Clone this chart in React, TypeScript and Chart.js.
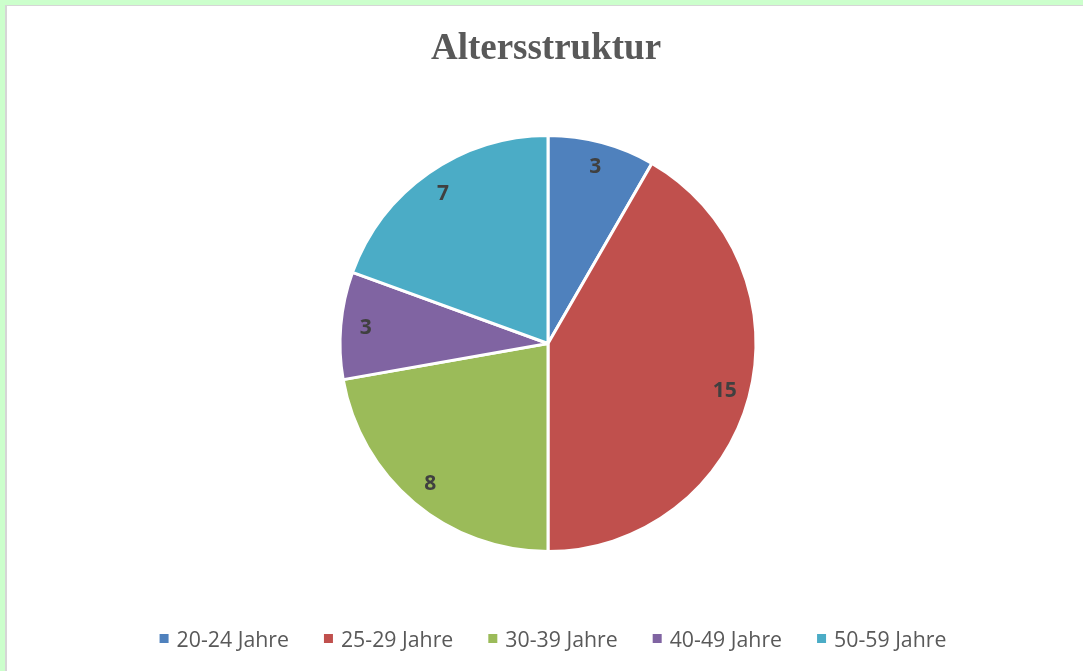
import React, { useEffect, useRef } from "react";
import { Chart, registerables } from "chart.js";

Chart.register(...registerables);

const TITLE = "Altersstruktur";
const categories = ["20-24 Jahre", "25-29 Jahre", "30-39 Jahre", "40-49 Jahre", "50-59 Jahre"];
const values = [3, 15, 8, 3, 7];
const colors = ["#4F81BD", "#C0504D", "#9BBB59", "#8064A2", "#4BACC6"];

const CANVAS_W = 1076;
const CANVAS_H = 665;

const decorPlugin = {
  id: "decor",
  afterDatasetsDraw(chart: any) {
    const ctx = chart.ctx as CanvasRenderingContext2D;
    const area = chart.chartArea;
    const cx = (area.left + area.right) / 2;
    const meta = chart.getDatasetMeta(0);

    ctx.save();
    // slice value labels
    ctx.font = "bold 21px 'Open Sans'";
    ctx.fillStyle = "#404040";
    ctx.textAlign = "center";
    ctx.textBaseline = "middle";
    meta.data.forEach((arc: any, i: number) => {
      const p = arc.getProps(["x", "y", "startAngle", "endAngle", "outerRadius"], true);
      const mid = (p.startAngle + p.endAngle) / 2;
      const r = p.outerRadius * 0.88;
      ctx.fillText(String(values[i]), p.x + Math.cos(mid) * r, p.y + Math.sin(mid) * r);
    });

    // title
    ctx.font = "bold 37px 'Liberation Serif'";
    ctx.fillStyle = "#595959";
    ctx.textAlign = "center";
    ctx.textBaseline = "alphabetic";
    ctx.fillText(TITLE, cx - 2, 53);

    // legend
    ctx.font = "21.3px 'Open Sans'";
    const box = 9;
    const gapBoxText = 8;
    const gapItems = 35;
    const widths = categories.map((c) => box + gapBoxText + ctx.measureText(c).width);
    const total = widths.reduce((a, b) => a + b, 0) + gapItems * (categories.length - 1);
    let x = cx + 5 - total / 2;
    const baseline = 641;
    categories.forEach((c, i) => {
      ctx.fillStyle = colors[i];
      ctx.fillRect(x, 628, box, box);
      ctx.fillStyle = "#595959";
      ctx.textAlign = "left";
      ctx.fillText(c, x + box + gapBoxText, baseline);
      x += widths[i] + gapItems;
    });
    ctx.restore();
  },
};

export default function App() {
  const ref = useRef<HTMLCanvasElement | null>(null);

  useEffect(() => {
    if (!ref.current) return;
    const chart = new Chart(ref.current, {
      type: "pie",
      data: {
        labels: categories,
        datasets: [
          {
            data: values,
            backgroundColor: colors,
            borderColor: "#FFFFFF",
            borderWidth: 3,
            hoverOffset: 0,
          },
        ],
      },
      options: {
        responsive: false,
        animation: false,
        events: [],
        layout: { padding: { top: 128, bottom: 118, left: 6, right: 0 } },
        plugins: {
          legend: { display: false },
          title: { display: false },
          tooltip: { enabled: false },
        },
      },
      plugins: [decorPlugin],
    });
    return () => chart.destroy();
  }, []);

  return (
    <div style={{ position: "fixed", left: 0, top: 0, right: 0, bottom: 0, background: "#CCFFCC", overflow: "hidden" }}>
      <div
        style={{
          position: "absolute",
          left: 5,
          top: 5,
          right: 0,
          bottom: 0,
          background: "#FFFFFF",
          borderLeft: "2px solid #D6D6D6",
          borderTop: "1px solid #D6D6D6",
        }}
      >
        <canvas ref={ref} width={CANVAS_W} height={CANVAS_H} style={{ display: "block", width: CANVAS_W, height: CANVAS_H }} />
      </div>
    </div>
  );
}
